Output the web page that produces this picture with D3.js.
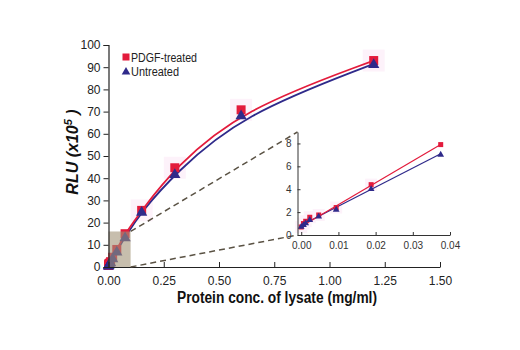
<!DOCTYPE html>
<html>
<head>
<meta charset="utf-8">
<script src="https://cdn.jsdelivr.net/npm/d3@7"></script>
<style>
  body { margin: 0; background: #fff; }
  text { font-family: "Liberation Sans", Arial, sans-serif; }
</style>
</head>
<body>
<div id="main"></div>
<script>
const ctx = { w: 520, h: 350 };

// protein concentration (mg/ml), two-fold dilutions
const conc = [0, 0.0006, 0.0012, 0.0023, 0.0047, 0.0094, 0.0188, 0.0375, 0.075, 0.15, 0.3, 0.6, 1.2];
// RLU (x10^5)
const pdgf = [0.7, 1.0, 1.2, 1.55, 1.75, 2.4, 4.4, 7.9, 15, 25.5, 44.7, 70.8, 93];
const untreated = [0.8, 0.95, 1.1, 1.4, 1.7, 2.3, 4.1, 7.1, 13.5, 25, 42, 68.5, 91.5];

const xTicks = [0, 0.25, 0.5, 0.75, 1.0, 1.25, 1.5];
const yTicks = [0, 10, 20, 30, 40, 50, 60, 70, 80, 90, 100];
const insetXTicks = [0, 0.01, 0.02, 0.03, 0.04];
const insetYTicks = [0, 2, 4, 6, 8];
// linear fits of the low range (inset)
const insetFitPdgf = [[0, 0.75], [0.0375, 7.9]];
const insetFitUntreated = [[0, 0.85], [0.0375, 7.1]];
// zoom box (data units)
const zoomBox = { x: 0.1, y: 16 };

const RED = "#e31b3c", BLUE = "#2f2a8a";
const FONT = '"Liberation Sans", Arial, sans-serif';

function series(vals) { return conc.map((c, i) => ({ x: c, y: vals[i] })); }

function drawMarkers(g, data, type, x, y, size) {
  if (type === "square") {
    g.selectAll(null).data(data).enter().append("rect")
      .attr("x", d => x(d.x) - size / 2).attr("y", d => y(d.y) - size / 2)
      .attr("width", size).attr("height", size).attr("fill", RED);
  } else {
    const sym = d3.symbol().type(d3.symbolTriangle).size(size * size * 0.55);
    g.selectAll(null).data(data).enter().append("path")
      .attr("d", sym)
      .attr("transform", d => `translate(${x(d.x)},${y(d.y) + 1})`)
      .attr("fill", BLUE);
  }
}

function styleAxis(a, size, color) {
  a.select(".domain").attr("stroke", color).attr("stroke-width", 1.2);
  a.selectAll(".tick line").attr("stroke", color);
  a.selectAll("text").attr("font-size", size).attr("fill", color).style("font-family", FONT);
}

function createViz() {
  const svg = d3.select("#main").append("svg").attr("width", ctx.w).attr("height", ctx.h);

  // ---- main chart ----
  const x = d3.scaleLinear().domain([0, 1.5]).range([108.5, 440]);
  const y = d3.scaleLinear().domain([0, 100]).range([267, 45]);

  const red = series(pdgf), blue = series(untreated);

  // faint halos behind markers
  const halo = svg.append("g");
  halo.selectAll(null).data(red.filter(d => d.x >= 0.15)).enter().append("rect")
    .attr("x", d => x(d.x) - 11).attr("y", d => y(d.y) - 11)
    .attr("width", 22).attr("height", 22).attr("fill", "#fdf2fa");

  const line = d3.line().x(d => x(d.x)).y(d => y(d.y)).curve(d3.curveBasis);
  svg.append("path").datum(blue).attr("d", line).attr("fill", "none")
    .attr("stroke", BLUE).attr("stroke-width", 1.8);
  svg.append("path").datum(red).attr("d", line).attr("fill", "none")
    .attr("stroke", RED).attr("stroke-width", 1.8);

  const marks = svg.append("g");
  drawMarkers(marks, red, "square", x, y, 9);
  drawMarkers(marks, blue, "triangle", x, y, 10);

  // zoom box over the low range
  svg.append("rect")
    .attr("x", x(0)).attr("y", y(zoomBox.y))
    .attr("width", x(zoomBox.x) - x(0)).attr("height", y(0) - y(zoomBox.y))
    .attr("fill", "#a29276").attr("opacity", 0.6);

  // axes
  const xAxis = svg.append("g").attr("transform", `translate(0,${y(0)})`)
    .call(d3.axisBottom(x).tickValues(xTicks).tickFormat(d3.format(".2f"))
      .tickSizeInner(-5).tickSizeOuter(0).tickPadding(9));
  const yAxis = svg.append("g").attr("transform", `translate(${x(0)},0)`)
    .call(d3.axisLeft(y).tickValues(yTicks).tickSize(5).tickPadding(3));
  styleAxis(xAxis, 12, "#222");
  styleAxis(yAxis, 12, "#222");

  // ---- inset ----
  const ix = d3.scaleLinear().domain([-0.001, 0.04]).range([297.5, 450]);
  const iy = d3.scaleLinear().domain([0, 9]).range([235, 132]);

  // dashed guide lines from zoom box to inset
  const guides = [
    [x(zoomBox.x), y(zoomBox.y), ix(-0.001), iy(9)],
    [x(zoomBox.x), y(0), ix(-0.001), iy(0)]
  ];
  svg.selectAll(".guide").data(guides).enter().append("line")
    .attr("class", "guide")
    .attr("x1", d => d[0]).attr("y1", d => d[1]).attr("x2", d => d[2]).attr("y2", d => d[3])
    .attr("stroke", "#5a5244").attr("stroke-width", 1.5).attr("stroke-dasharray", "6,4");

  const ired = red.filter(d => d.x <= 0.04), iblue = blue.filter(d => d.x <= 0.04);
  const ihalo = svg.append("g");
  ihalo.selectAll(null).data(ired.filter(d => d.x < 0.03)).enter().append("rect")
    .attr("x", d => ix(d.x) - 6).attr("y", d => iy(d.y) - 6)
    .attr("width", 12).attr("height", 12).attr("fill", "#fdf2fa");

  const iline = d3.line().x(d => ix(d[0])).y(d => iy(d[1]));
  svg.append("path").datum(insetFitUntreated).attr("d", iline)
    .attr("stroke", BLUE).attr("stroke-width", 1.2).attr("fill", "none");
  svg.append("path").datum(insetFitPdgf).attr("d", iline)
    .attr("stroke", RED).attr("stroke-width", 1.2).attr("fill", "none");

  const imarks = svg.append("g");
  drawMarkers(imarks, ired, "square", ix, iy, 5);
  drawMarkers(imarks, iblue, "triangle", ix, iy, 6);

  const ixAxis = svg.append("g").attr("transform", `translate(0,${iy(0)})`)
    .call(d3.axisBottom(ix).tickValues(insetXTicks).tickFormat(d3.format(".2f"))
      .tickSizeInner(-3).tickSizeOuter(0).tickPadding(7));
  const iyAxis = svg.append("g").attr("transform", `translate(${ix(-0.001)},0)`)
    .call(d3.axisLeft(iy).tickValues(insetYTicks).tickSizeInner(-3).tickSizeOuter(0).tickPadding(6));
  styleAxis(ixAxis, 10, "#333");
  styleAxis(iyAxis, 10, "#333");
  ixAxis.select(".domain").attr("stroke-width", 1);
  iyAxis.select(".domain").attr("stroke-width", 1);

  // ---- legend ----
  const legend = [
    { label: "PDGF-treated", type: "square", w: 66 },
    { label: "Untreated", type: "triangle", w: 48 }
  ];
  const lg = svg.append("g").attr("transform", "translate(126,57)");
  legend.forEach((l, i) => {
    const row = lg.append("g").attr("transform", `translate(0,${i * 14})`);
    if (l.type === "square") {
      row.append("rect").attr("x", -3.5).attr("y", -3.5).attr("width", 7).attr("height", 7).attr("fill", RED);
    } else {
      row.append("path").attr("d", d3.symbol().type(d3.symbolTriangle).size(32))
        .attr("transform", "translate(0,1)").attr("fill", BLUE);
    }
    row.append("text").attr("x", 5).attr("y", 4.5).attr("font-size", 12.5).attr("fill", "#222")
      .attr("textLength", l.w).attr("lengthAdjust", "spacingAndGlyphs").text(l.label);
  });

  // ---- titles ----
  svg.append("text")
    .attr("x", 277).attr("y", 303)
    .attr("text-anchor", "middle").attr("font-size", 16).attr("font-weight", "bold").attr("fill", "#111")
    .attr("textLength", 200).attr("lengthAdjust", "spacingAndGlyphs")
    .text("Protein conc. of lysate (mg/ml)");

  const yt = svg.append("text")
    .attr("transform", "translate(78,152) rotate(-90)")
    .attr("text-anchor", "middle").attr("font-size", 16).attr("font-weight", "bold")
    .attr("font-style", "italic").attr("fill", "#111");
  yt.append("tspan").text("RLU (x10");
  yt.append("tspan").attr("baseline-shift", "super").attr("font-size", 11).text("5");
  yt.append("tspan").text(" )");
}

createViz();
</script>
</body>
</html>
